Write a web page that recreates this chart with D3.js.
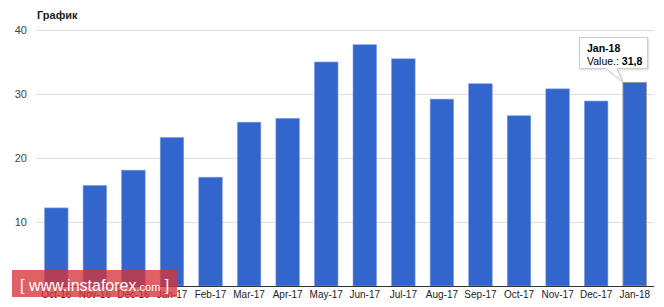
<!DOCTYPE html>
<html><head><meta charset="utf-8">
<script src="https://cdn.jsdelivr.net/npm/d3@7"></script>
<style>body{margin:0;background:#fff;}svg{display:block;font-family:Arial,"Liberation Sans",sans-serif;}</style>
</head><body><svg id="c" width="664" height="307"></svg>
<script>
const categories = ["Oct-16","Nov-16","Dec-16","Jan-17","Feb-17","Mar-17","Apr-17","May-17","Jun-17","Jul-17","Aug-17","Sep-17","Oct-17","Nov-17","Dec-17","Jan-18"];
const values = [12.2,15.7,18.1,23.2,17.0,25.6,26.2,35.0,37.7,35.5,29.2,31.6,26.6,30.8,28.9,31.8];
const yTicks = [10,20,30,40];
const title = "График";
const tooltipLabel = "Value.: ";
const highlightIndex = 15;

const svg = d3.select("#c");
const x = d3.scaleBand().domain(categories).range([37, 654]).paddingInner(0.39).paddingOuter(0.195);
const y = d3.scaleLinear().domain([0, 40]).range([286, 30]);

svg.append("text").attr("x", 37).attr("y", 19).attr("font-size", 11).attr("font-weight", "bold").attr("fill", "#222").text(title);

// grid
const yAxis = d3.axisLeft(y).tickValues(yTicks).tickSize(-(654 - 36)).tickPadding(9).tickFormat(d3.format("d"));
const gy = svg.append("g").attr("transform", "translate(36,0)").call(yAxis);
gy.select(".domain").remove();
gy.selectAll(".tick line").attr("stroke", "#dcdcdc");
gy.selectAll(".tick text").attr("fill", "#444").attr("font-size", 11).attr("font-family", "Arial,'Liberation Sans',sans-serif");

// bars
svg.append("g").selectAll("rect").data(values).join("rect")
  .attr("x", (d, i) => x(categories[i]))
  .attr("y", d => y(d))
  .attr("width", x.bandwidth())
  .attr("height", d => y(0) - y(d))
  .attr("fill", "#3366cc")
  .attr("stroke", (d, i) => i === highlightIndex ? "#999" : "#7f9fe0")
  .attr("stroke-width", (d, i) => i === highlightIndex ? 1 : 0.6);

// x axis
const xAxis = d3.axisBottom(x).tickSize(0).tickPadding(5);
const gx = svg.append("g").attr("transform", "translate(0,286)").call(xAxis);
gx.select(".domain").attr("stroke", "#333").attr("d", "M37,0.5H654");
gx.selectAll(".tick text").attr("fill", "#222").attr("font-size", 10).attr("font-family", "Arial,'Liberation Sans',sans-serif");

// tooltip
const hx = x(categories[highlightIndex]);
const hy = y(values[highlightIndex]);
const bx0 = 579.5, by0 = 37.5, bx1 = 647.5, by1 = 68.5;
const tip = svg.append("g");
tip.append("path")
  .attr("d", `M${bx0},${by0}H${bx1}V${by1}H617L${hx - 0.5},${hy - 1}L606,${by1}H${bx0}Z`)
  .attr("fill", "#fff").attr("stroke", "#ccc").attr("stroke-width", 1)
  .style("filter", "drop-shadow(1px 1px 1px rgba(0,0,0,0.15))");
tip.append("text").attr("x", 587).attr("y", 52).attr("font-size", 10.5).attr("font-weight", "bold").attr("fill", "#000").text(categories[highlightIndex]);
const t2 = tip.append("text").attr("x", 587).attr("y", 65).attr("font-size", 10.5).attr("fill", "#000");
t2.append("tspan").text(tooltipLabel);
t2.append("tspan").attr("font-weight", "bold").text(String(values[highlightIndex]).replace(".", ","));

// watermark
const wm = svg.append("g");
wm.append("rect").attr("x", 12).attr("y", 270).attr("width", 165).attr("height", 27).attr("fill", "rgba(214,52,58,0.78)");
const wt = wm.append("text").attr("x", 20).attr("y", 291).attr("fill", "#fff").attr("font-family", "Arial,'Liberation Sans',sans-serif");
wt.append("tspan").attr("font-size", 16).text("[ ");
wt.append("tspan").attr("font-size", 16).text("www.instaforex");
wt.append("tspan").attr("font-size", 11).text(".com");
wt.append("tspan").attr("font-size", 16).text(" ]");
</script></body></html>
